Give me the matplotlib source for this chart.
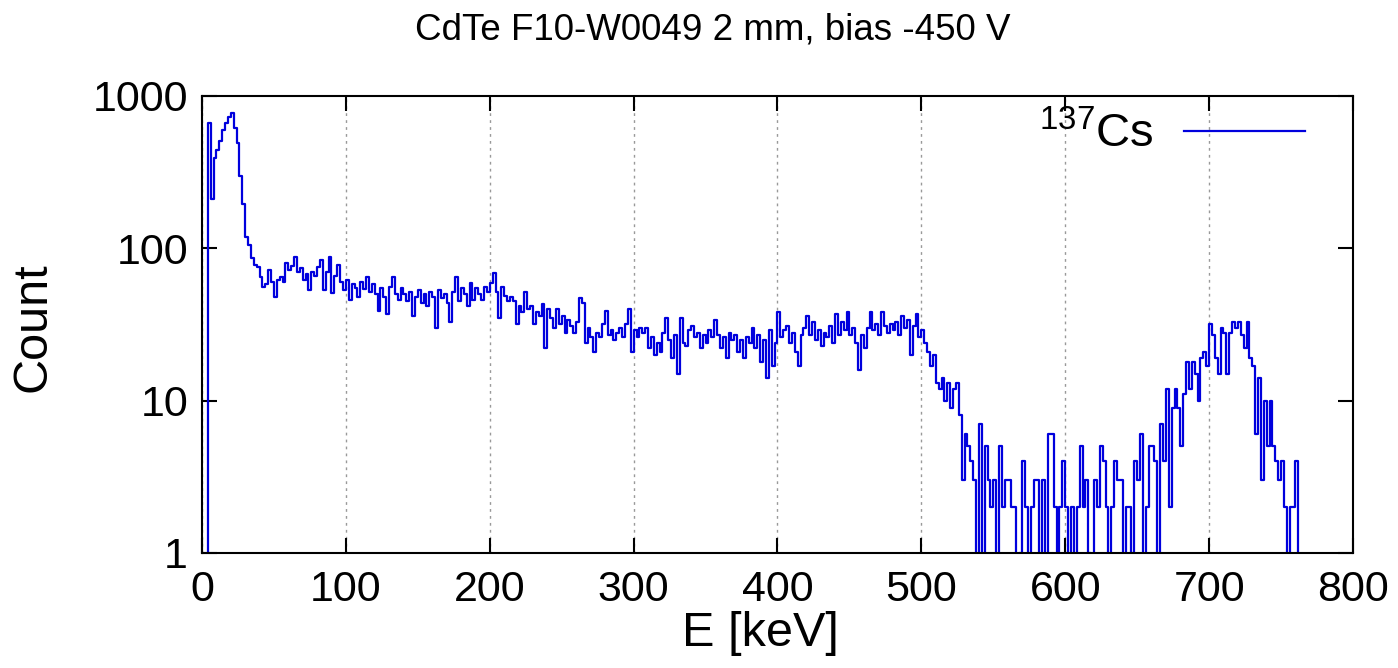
import numpy as np
import matplotlib
matplotlib.use('Agg')
import matplotlib.pyplot as plt

plt.rcParams['font.family'] = ['Liberation Sans', 'DejaVu Sans']
plt.rcParams['mathtext.default'] = 'regular'

title = 'CdTe F10-W0049 2 mm, bias -450 V'
source = '$^{137}$Cs'

# counts per 2 keV bin, starting at 0 keV
bin_width = 2.0
counts = [
    0, 0, 665, 210, 390, 440, 510, 600, 665, 730, 770, 620, 490, 300, 195, 119, 105, 86, 78, 75,
    65, 56, 58, 72, 60, 48, 62, 65, 60, 80, 72, 76, 88, 70, 74, 62, 68, 53, 70, 66,
    75, 84, 53, 70, 88, 51, 66, 78, 60, 53, 62, 46, 58, 55, 48, 60, 54, 65, 52, 58,
    50, 39, 55, 48, 37, 56, 65, 50, 46, 55, 50, 45, 52, 36, 48, 53, 44, 50, 42, 52,
    48, 30, 53, 47, 50, 44, 33, 52, 65, 45, 55, 50, 42, 59, 46, 55, 50, 46, 56, 52,
    59, 69, 52, 35, 56, 49, 45, 48, 45, 32, 42, 38, 52, 40, 42, 32, 38, 36, 43, 22,
    40, 35, 30, 40, 32, 36, 28, 34, 31, 28, 33, 47, 44, 24, 30, 26, 21, 28, 26, 32,
    39, 27, 29, 25, 28, 30, 26, 32, 40, 21, 29, 26, 30, 28, 30, 22, 26, 20, 24, 21,
    28, 35, 25, 19, 27, 15, 35, 24, 23, 29, 31, 26, 28, 22, 27, 24, 29, 26, 34, 27,
    22, 26, 19, 28, 25, 27, 21, 25, 19, 26, 24, 30, 22, 27, 18, 25, 14, 29, 17, 24,
    38, 26, 29, 31, 24, 28, 21, 17, 27, 30, 36, 27, 33, 25, 29, 23, 28, 26, 31, 24,
    37, 27, 33, 29, 38, 27, 30, 24, 16, 27, 22, 30, 38, 29, 32, 27, 38, 31, 28, 32,
    29, 33, 27, 36, 30, 34, 20, 31, 37, 26, 29, 24, 21, 17, 20, 13, 12, 14, 10, 13,
    9, 12, 13, 8, 3, 6, 5, 4, 3, 0, 7, 0, 5, 3, 2, 3, 0, 5, 2, 3,
    3, 2, 2, 0, 1, 4, 2, 0, 2, 3, 3, 0, 3, 0, 6, 6, 2, 0, 2, 4,
    2, 0, 2, 0, 2, 5, 2, 3, 1, 0, 3, 2, 5, 4, 2, 0, 2, 4, 3, 3,
    0, 2, 2, 1, 4, 3, 6, 0, 2, 5, 5, 4, 0, 7, 4, 12, 2, 9, 12, 9,
    5, 11, 18, 12, 18, 15, 10, 19, 21, 17, 32, 27, 19, 15, 30, 28, 15, 28, 33, 30,
    33, 27, 22, 33, 19, 17, 6, 14, 3, 10, 5, 10, 5, 4, 3, 4, 2, 0, 2, 2,
    4,
]

x_ticks = [0, 100, 200, 300, 400, 500, 600, 700, 800]
y_ticks = [1, 10, 100, 1000]

edges = np.arange(len(counts) + 1) * bin_width
y = np.append(np.array(counts, dtype=float), 0.0)

fig = plt.figure(figsize=(13.98, 6.68), dpi=100)
ax = fig.add_axes([0.1445, 0.1722, 0.8233, 0.6841])

ax.step(edges, y, where='post', color='#0000dd', lw=1.6, label=source)

ax.set_yscale('log')
ax.set_xlim(0, 800)
ax.set_ylim(1, 1000)
ax.set_xticks(x_ticks)
ax.set_yticks(y_ticks)
ax.set_yticklabels([str(v) for v in y_ticks])
ax.yaxis.set_minor_locator(matplotlib.ticker.NullLocator())
ax.tick_params(which='major', direction='in', length=11, width=1.5,
               top=True, right=True, labelsize=31, pad=10)
ax.tick_params(axis='x', pad=12)
for s in ax.spines.values():
    s.set_linewidth(1.5)
ax.xaxis.grid(True, linestyle=(0, (2, 3)), color='#999999', lw=1)

fig.text(0.51, 0.955, title, ha='center', va='center', fontsize=26.5)
fig.text(0.5436, 0.052, 'E [keV]', ha='center', va='center', fontsize=35)
fig.text(0.0236, 0.5105, 'Count', ha='center', va='center', fontsize=35, rotation=90)

leg = ax.legend(loc='upper right', bbox_to_anchor=(0.958, 0.965), frameon=False,
                markerfirst=False, fontsize=34, handlelength=2.55,
                borderpad=0, borderaxespad=0, handletextpad=0.64)

fig.savefig('out.png', dpi=100)
plt.close(fig)
